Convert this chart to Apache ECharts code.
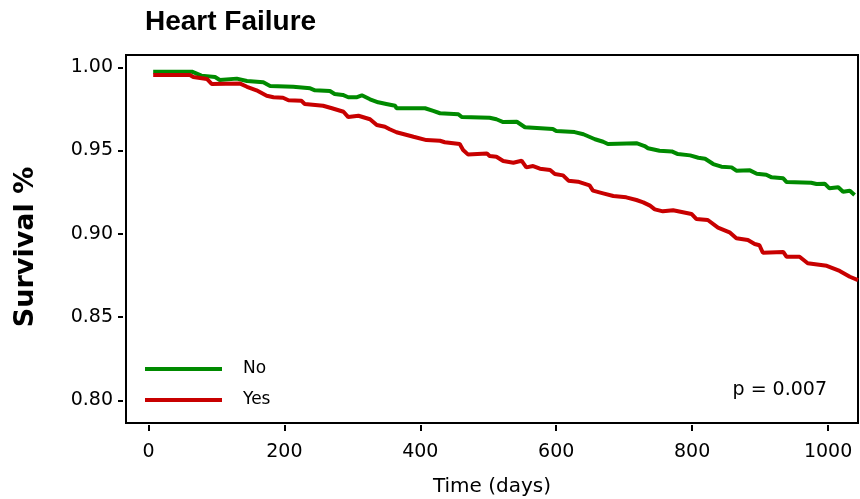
<!DOCTYPE html>
<html>
<head>
<meta charset="utf-8">
<script src="https://cdn.jsdelivr.net/npm/echarts@6/dist/echarts.min.js"></script>
<style>html,body{margin:0;padding:0;background:#fff}#c{width:860px;height:499px}</style>
</head>
<body>
<div id="c"></div>
<script>
const xTicks = [0, 200, 400, 600, 800, 1000];
const yTicks = [0.80, 0.85, 0.90, 0.95, 1.00];
const seriesNames = ['No', 'Yes'];
const noDays = [7, 64, 78, 98, 105, 130, 145, 169, 179, 213, 238, 245, 267, 274, 286, 294, 306, 314, 326, 338, 350, 363, 365, 407, 419, 429, 456, 461, 502, 512, 522, 542, 554, 595, 600, 627, 640, 657, 669, 676, 718, 730, 735, 752, 770, 779, 797, 809, 819, 831, 843, 858, 865, 885, 895, 909, 917, 934, 939, 975, 983, 995, 1002, 1015, 1022, 1032, 1039];
const noSurv = [0.9974, 0.9974, 0.9950, 0.9942, 0.9924, 0.9932, 0.9918, 0.9910, 0.9888, 0.9883, 0.9874, 0.9862, 0.9858, 0.9840, 0.9834, 0.9820, 0.9820, 0.9832, 0.9808, 0.9790, 0.9780, 0.9769, 0.9754, 0.9754, 0.9738, 0.9724, 0.9718, 0.9701, 0.9697, 0.9688, 0.9671, 0.9673, 0.9640, 0.9629, 0.9617, 0.9611, 0.9598, 0.9568, 0.9553, 0.9539, 0.9544, 0.9527, 0.9514, 0.9499, 0.9495, 0.9479, 0.9471, 0.9457, 0.9451, 0.9419, 0.9403, 0.9399, 0.9379, 0.9381, 0.9361, 0.9355, 0.9339, 0.9333, 0.9311, 0.9307, 0.9299, 0.9301, 0.9273, 0.9279, 0.9253, 0.9259, 0.9233];
const yesDays = [7, 61, 66, 86, 93, 135, 145, 159, 174, 184, 198, 206, 225, 230, 257, 270, 287, 294, 309, 326, 336, 348, 355, 365, 390, 409, 429, 436, 458, 463, 470, 498, 502, 512, 522, 537, 549, 556, 566, 576, 591, 598, 610, 618, 632, 649, 654, 669, 684, 703, 718, 728, 738, 745, 757, 772, 799, 806, 823, 838, 855, 865, 882, 892, 899, 904, 934, 939, 958, 970, 998, 1017, 1032, 1044];
const yesSurv = [0.9954, 0.9954, 0.9942, 0.9930, 0.9900, 0.9902, 0.9883, 0.9862, 0.9829, 0.9820, 0.9817, 0.9802, 0.9799, 0.9780, 0.9769, 0.9754, 0.9733, 0.9701, 0.9709, 0.9688, 0.9653, 0.9643, 0.9628, 0.9610, 0.9583, 0.9563, 0.9559, 0.9550, 0.9539, 0.9503, 0.9477, 0.9483, 0.9467, 0.9463, 0.9437, 0.9427, 0.9439, 0.9399, 0.9407, 0.9391, 0.9383, 0.9359, 0.9351, 0.9319, 0.9313, 0.9291, 0.9259, 0.9243, 0.9227, 0.9219, 0.9203, 0.9189, 0.9169, 0.9147, 0.9135, 0.9141, 0.9119, 0.9089, 0.9083, 0.9037, 0.9009, 0.8973, 0.8963, 0.8939, 0.8931, 0.8886, 0.8891, 0.8862, 0.8862, 0.8823, 0.8808, 0.8777, 0.8742, 0.8722];
const pText = 'p = 0.007';

const zip = (a, b) => a.map((d, i) => [d, b[i]]);
const FONT = 'DejaVu Sans';
const GREEN = '#008a00', RED = '#c80000';
const lineIcon = 'path://M0,0 H77 V4 H0 Z';
const chart = echarts.init(document.getElementById('c'), null, {renderer: 'canvas'});
chart.setOption({
  animation: false,
  backgroundColor: '#fff',
  title: {
    text: 'Heart Failure', left: 145, top: 8, padding: 0,
    textStyle: {fontFamily: 'Liberation Sans', fontWeight: 'bold', fontSize: 28, color: '#000'}
  },
  grid: {left: 126, right: 2, top: 55, bottom: 76, show: true, borderColor: '#000', borderWidth: 2,
    backgroundColor: 'transparent', outerBoundsMode: 'none', containLabel: false},
  legend: {
    orient: 'vertical', left: 145, top: 360, padding: 0, itemWidth: 77, itemHeight: 18, itemGap: 13,
    symbolKeepAspect: true,
    data: seriesNames.map(n => ({name: n, icon: lineIcon})),
    textStyle: {fontFamily: FONT, fontSize: 17, color: '#000', lineHeight: 18, padding: [0, 0, 0, 16]}
  },
  xAxis: {
    type: 'value', min: -33, max: 1044, offset: 2,
    name: 'Time (days)', nameLocation: 'middle', nameGap: 52,
    nameTextStyle: {fontFamily: FONT, fontSize: 20, color: '#000'},
    axisLine: {show: false, onZero: false},
    splitLine: {show: false},
    axisTick: {show: true, length: 6, lineStyle: {color: '#000', width: 2}, customValues: xTicks},
    axisLabel: {fontFamily: FONT, fontSize: 19, color: '#000', margin: 18, customValues: xTicks,
      formatter: v => String(v)}
  },
  yAxis: {
    type: 'value', min: 0.78637, max: 1.00739, offset: 3,
    name: 'Survival %', nameLocation: 'middle', nameGap: 84, nameRotate: 90,
    nameTextStyle: {fontFamily: FONT, fontWeight: 'bold', fontSize: 27, color: '#000', padding: [0, 16, 0, 0]},
    axisLine: {show: false, onZero: false},
    splitLine: {show: false},
    axisTick: {show: true, length: 5, lineStyle: {color: '#000', width: 2}, customValues: yTicks},
    axisLabel: {fontFamily: FONT, fontSize: 19, color: '#000', margin: 10, customValues: yTicks,
      formatter: v => v.toFixed(2)}
  },
  graphic: [{
    type: 'text', x: 827, y: 390,
    style: {text: pText, fontFamily: FONT, fontSize: 19, fill: '#000', textAlign: 'right', textVerticalAlign: 'middle'}
  }],
  series: [
    {name: seriesNames[0], type: 'line', data: zip(noDays, noSurv), symbol: 'none', color: GREEN,
      itemStyle: {color: GREEN}, lineStyle: {width: 4, color: GREEN}},
    {name: seriesNames[1], type: 'line', data: zip(yesDays, yesSurv), symbol: 'none', color: RED,
      itemStyle: {color: RED}, lineStyle: {width: 4, color: RED}}
  ]
});
</script>
</body>
</html>
